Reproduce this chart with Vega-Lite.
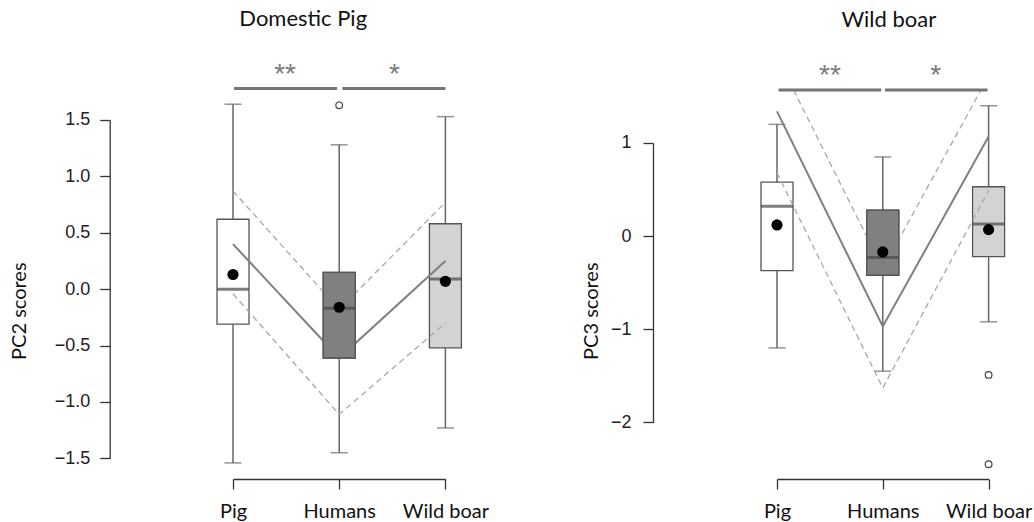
{
  "$schema": "https://vega.github.io/schema/vega-lite/v6.json",
  "background": "white",
  "padding": {"left": 9, "top": 8, "right": 5, "bottom": 5},
  "bounds": "flush",
  "spacing": 331,
  "config": {
    "view": {"stroke": null},
    "scale": {"continuousPadding": 0},
    "axis": {
      "grid": false,
      "domainColor": "#333333",
      "domainWidth": 1.3,
      "tickColor": "#333333",
      "tickWidth": 1.3,
      "tickSize": 10,
      "labelColor": "#222222",
      "titleColor": "#111111",
      "titleFontWeight": "normal"
    },
    "title": {"font": "Lato", "fontSize": 22, "fontWeight": "normal", "color": "#111111"}
  },
  "datasets": {
    "pigBox": [
      {"g": 1, "grp": "Pig", "lo": -1.54, "q1": -0.31, "med": 0.0, "q3": 0.62, "hi": 1.64, "mean": 0.13},
      {"g": 2, "grp": "Humans", "lo": -1.45, "q1": -0.61, "med": -0.17, "q3": 0.15, "hi": 1.28, "mean": -0.16},
      {"g": 3, "grp": "Wild boar", "lo": -1.23, "q1": -0.52, "med": 0.09, "q3": 0.58, "hi": 1.53, "mean": 0.07}
    ],
    "pigOut": [
      {"g": 2, "v": 1.63}
    ],
    "pigFit": [
      {"g": 1, "v": 0.40, "s": "fit"},
      {"g": 2, "v": -0.61, "s": "fit"},
      {"g": 3, "v": 0.25, "s": "fit"},
      {"g": 1, "v": 0.87, "s": "upper"},
      {"g": 2, "v": -0.18, "s": "upper"},
      {"g": 3, "v": 0.77, "s": "upper"},
      {"g": 1, "v": -0.04, "s": "lower"},
      {"g": 2, "v": -1.11, "s": "lower"},
      {"g": 3, "v": -0.30, "s": "lower"}
    ],
    "pigSig": [
      {"a": 1.01, "b": 1.98, "y": 1.78, "mid": 1.49, "ty": 1.96, "stars": "**"},
      {"a": 2.03, "b": 3.0, "y": 1.78, "mid": 2.52, "ty": 1.96, "stars": "*"}
    ],
    "boarBox": [
      {"g": 1, "grp": "Pig", "lo": -1.20, "q1": -0.37, "med": 0.32, "q3": 0.58, "hi": 1.20, "mean": 0.12},
      {"g": 2, "grp": "Humans", "lo": -1.45, "q1": -0.42, "med": -0.23, "q3": 0.28, "hi": 0.85, "mean": -0.17},
      {"g": 3, "grp": "Wild boar", "lo": -0.92, "q1": -0.22, "med": 0.13, "q3": 0.53, "hi": 1.40, "mean": 0.07}
    ],
    "boarOut": [
      {"g": 3, "v": -1.49},
      {"g": 3, "v": -2.45}
    ],
    "boarFit": [
      {"g": 1, "v": 1.34, "s": "fit"},
      {"g": 2, "v": -0.97, "s": "fit"},
      {"g": 3, "v": 1.07, "s": "fit"},
      {"g": 1.157, "v": 1.57, "s": "upper"},
      {"g": 2, "v": -0.35, "s": "upper"},
      {"g": 2.928, "v": 1.57, "s": "upper"},
      {"g": 1, "v": 0.68, "s": "lower"},
      {"g": 2, "v": -1.63, "s": "lower"},
      {"g": 3, "v": 0.49, "s": "lower"}
    ],
    "boarSig": [
      {"a": 1.015, "b": 1.985, "y": 1.57, "mid": 1.5, "ty": 1.79, "stars": "**"},
      {"a": 2.02, "b": 2.99, "y": 1.57, "mid": 2.5, "ty": 1.79, "stars": "*"}
    ]
  },
  "hconcat": [
    {
      "title": {"text": "Domestic Pig", "anchor": "middle", "dx": -36, "offset": 30},
      "width": 212.4,
      "height": 338.4,
      "layer": [
        {
          "data": {"name": "pigBox"},
          "mark": {"type": "rule", "color": "#666666", "strokeWidth": 1.5},
          "encoding": {
            "x": {
              "field": "g", "type": "quantitative",
              "scale": {"domain": [1, 3], "nice": false, "zero": false, "padding": 0},
              "axis": {
                "values": [1, 2, 3],
                "labelExpr": "datum.value == 1 ? 'Pig' : datum.value == 2 ? 'Humans' : 'Wild boar'",
                "title": null, "offset": 20.6, "labelFont": "Lato", "labelFontSize": 20,
                "labelPadding": 13, "labelFlush": false, "labelOverlap": false, "labelColor": "#111111"
              }
            },
            "y": {
              "field": "lo", "type": "quantitative",
              "scale": {"domain": [-1.5, 1.5], "nice": false, "zero": false, "padding": 0},
              "axis": {
                "values": [-1.5, -1, -0.5, 0, 0.5, 1, 1.5], "format": ".1f",
                "title": "PC2 scores", "offset": 123.3, "labelFont": "Liberation Sans",
                "labelFontSize": 18, "labelPadding": 10, "titleFont": "Lato", "titleFontSize": 20,
                "titlePadding": 24.3, "titleY": 190.7
              }
            },
            "y2": {"field": "hi"}
          }
        },
        {
          "data": {"name": "pigBox"},
          "mark": {"type": "tick", "orient": "horizontal", "size": 17, "thickness": 1.5, "color": "#666666"},
          "encoding": {"x": {"field": "g", "type": "quantitative"}, "y": {"field": "hi", "type": "quantitative"}}
        },
        {
          "data": {"name": "pigBox"},
          "mark": {"type": "tick", "orient": "horizontal", "size": 17, "thickness": 1.5, "color": "#666666"},
          "encoding": {"x": {"field": "g", "type": "quantitative"}, "y": {"field": "lo", "type": "quantitative"}}
        },
        {
          "data": {"name": "pigBox"},
          "mark": {"type": "bar", "width": 32, "stroke": "#555555", "strokeWidth": 1.3},
          "encoding": {
            "x": {"field": "g", "type": "quantitative"},
            "y": {"field": "q1", "type": "quantitative"},
            "y2": {"field": "q3"},
            "fill": {"field": "grp", "type": "nominal", "legend": null,
              "scale": {"domain": ["Pig", "Humans", "Wild boar"], "range": ["#ffffff", "#808080", "#d3d3d3"]}}
          }
        },
        {
          "data": {"name": "pigFit"},
          "transform": [{"filter": "datum.s != 'fit'"}],
          "mark": {"type": "line", "color": "#a8a8a8", "strokeWidth": 1.3, "strokeDash": [6, 4]},
          "encoding": {"x": {"field": "g", "type": "quantitative"}, "y": {"field": "v", "type": "quantitative"}, "detail": {"field": "s"}}
        },
        {
          "data": {"name": "pigFit"},
          "transform": [{"filter": "datum.s == 'fit'"}],
          "mark": {"type": "line", "color": "#7f7f7f", "strokeWidth": 2},
          "encoding": {"x": {"field": "g", "type": "quantitative"}, "y": {"field": "v", "type": "quantitative"}}
        },
        {
          "data": {"name": "pigBox"},
          "transform": [{"filter": "datum.grp == 'Humans'"}],
          "mark": {"type": "bar", "width": 32, "stroke": "#555555", "strokeWidth": 1.3, "fill": "#808080"},
          "encoding": {"x": {"field": "g", "type": "quantitative"}, "y": {"field": "q1", "type": "quantitative"}, "y2": {"field": "q3"}}
        },
        {
          "data": {"name": "pigBox"},
          "mark": {"type": "tick", "orient": "horizontal", "size": 32, "thickness": 3, "color": "#474747"},
          "encoding": {"x": {"field": "g", "type": "quantitative"}, "y": {"field": "med", "type": "quantitative"}}
        },
        {
          "data": {"name": "pigBox"},
          "mark": {"type": "point", "shape": "circle", "filled": true, "size": 125, "color": "#000000", "opacity": 1},
          "encoding": {"x": {"field": "g", "type": "quantitative"}, "y": {"field": "mean", "type": "quantitative"}}
        },
        {
          "data": {"name": "pigOut"},
          "mark": {"type": "point", "shape": "circle", "filled": false, "size": 45, "color": "#444444", "strokeWidth": 1.2, "opacity": 1},
          "encoding": {"x": {"field": "g", "type": "quantitative"}, "y": {"field": "v", "type": "quantitative"}}
        },
        {
          "data": {"name": "pigSig"},
          "mark": {"type": "rule", "color": "#757575", "strokeWidth": 3},
          "encoding": {"x": {"field": "a", "type": "quantitative"}, "x2": {"field": "b"}, "y": {"field": "y", "type": "quantitative"}}
        },
        {
          "data": {"name": "pigSig"},
          "mark": {"type": "text", "font": "Liberation Sans", "fontSize": 28, "color": "#7a7a7a", "baseline": "middle", "dy": 7},
          "encoding": {"x": {"field": "mid", "type": "quantitative"}, "y": {"field": "ty", "type": "quantitative"}, "text": {"field": "stars"}}
        }
      ]
    },
    {
      "title": {"text": "Wild boar", "anchor": "middle", "dx": 6, "offset": 30},
      "width": 211.6,
      "height": 338.4,
      "layer": [
        {
          "data": {"name": "boarBox"},
          "mark": {"type": "rule", "color": "#666666", "strokeWidth": 1.5},
          "encoding": {
            "x": {
              "field": "g", "type": "quantitative",
              "scale": {"domain": [1, 3], "nice": false, "zero": false, "padding": 0},
              "axis": {
                "values": [1, 2, 3],
                "labelExpr": "datum.value == 1 ? 'Pig' : datum.value == 2 ? 'Humans' : 'Wild boar'",
                "title": null, "offset": 20.6, "labelFont": "Lato", "labelFontSize": 20,
                "labelPadding": 13, "labelFlush": false, "labelOverlap": false, "labelColor": "#111111"
              }
            },
            "y": {
              "field": "lo", "type": "quantitative",
              "scale": {"domain": [-2, 1], "nice": false, "zero": false, "range": [302.4, 23]},
              "axis": {
                "values": [-2, -1, 0, 1], "format": "d",
                "title": "PC3 scores", "offset": 124, "labelFont": "Liberation Sans",
                "labelFontSize": 18, "labelPadding": 12, "titleFont": "Lato", "titleFontSize": 20,
                "titlePadding": 9, "titleY": 190.7
              }
            },
            "y2": {"field": "hi"}
          }
        },
        {
          "data": {"name": "boarBox"},
          "mark": {"type": "tick", "orient": "horizontal", "size": 17, "thickness": 1.5, "color": "#666666"},
          "encoding": {"x": {"field": "g", "type": "quantitative"}, "y": {"field": "hi", "type": "quantitative"}}
        },
        {
          "data": {"name": "boarBox"},
          "mark": {"type": "tick", "orient": "horizontal", "size": 17, "thickness": 1.5, "color": "#666666"},
          "encoding": {"x": {"field": "g", "type": "quantitative"}, "y": {"field": "lo", "type": "quantitative"}}
        },
        {
          "data": {"name": "boarBox"},
          "mark": {"type": "bar", "width": 32, "stroke": "#555555", "strokeWidth": 1.3},
          "encoding": {
            "x": {"field": "g", "type": "quantitative"},
            "y": {"field": "q1", "type": "quantitative"},
            "y2": {"field": "q3"},
            "fill": {"field": "grp", "type": "nominal", "legend": null,
              "scale": {"domain": ["Pig", "Humans", "Wild boar"], "range": ["#ffffff", "#808080", "#d3d3d3"]}}
          }
        },
        {
          "data": {"name": "boarFit"},
          "transform": [{"filter": "datum.s != 'fit'"}],
          "mark": {"type": "line", "color": "#a8a8a8", "strokeWidth": 1.3, "strokeDash": [6, 4]},
          "encoding": {"x": {"field": "g", "type": "quantitative"}, "y": {"field": "v", "type": "quantitative"}, "detail": {"field": "s"}}
        },
        {
          "data": {"name": "boarFit"},
          "transform": [{"filter": "datum.s == 'fit'"}],
          "mark": {"type": "line", "color": "#7f7f7f", "strokeWidth": 2},
          "encoding": {"x": {"field": "g", "type": "quantitative"}, "y": {"field": "v", "type": "quantitative"}}
        },
        {
          "data": {"name": "boarBox"},
          "transform": [{"filter": "datum.grp == 'Humans'"}],
          "mark": {"type": "bar", "width": 32, "stroke": "#555555", "strokeWidth": 1.3, "fill": "#808080"},
          "encoding": {"x": {"field": "g", "type": "quantitative"}, "y": {"field": "q1", "type": "quantitative"}, "y2": {"field": "q3"}}
        },
        {
          "data": {"name": "boarBox"},
          "mark": {"type": "tick", "orient": "horizontal", "size": 32, "thickness": 3, "color": "#474747"},
          "encoding": {"x": {"field": "g", "type": "quantitative"}, "y": {"field": "med", "type": "quantitative"}}
        },
        {
          "data": {"name": "boarBox"},
          "mark": {"type": "point", "shape": "circle", "filled": true, "size": 125, "color": "#000000", "opacity": 1},
          "encoding": {"x": {"field": "g", "type": "quantitative"}, "y": {"field": "mean", "type": "quantitative"}}
        },
        {
          "data": {"name": "boarOut"},
          "mark": {"type": "point", "shape": "circle", "filled": false, "size": 45, "color": "#444444", "strokeWidth": 1.2, "opacity": 1},
          "encoding": {"x": {"field": "g", "type": "quantitative"}, "y": {"field": "v", "type": "quantitative"}}
        },
        {
          "data": {"name": "boarSig"},
          "mark": {"type": "rule", "color": "#757575", "strokeWidth": 3},
          "encoding": {"x": {"field": "a", "type": "quantitative"}, "x2": {"field": "b"}, "y": {"field": "y", "type": "quantitative"}}
        },
        {
          "data": {"name": "boarSig"},
          "mark": {"type": "text", "font": "Liberation Sans", "fontSize": 28, "color": "#7a7a7a", "baseline": "middle", "dy": 7},
          "encoding": {"x": {"field": "mid", "type": "quantitative"}, "y": {"field": "ty", "type": "quantitative"}, "text": {"field": "stars"}}
        }
      ]
    }
  ],
  "resolve": {"scale": {"fill": "independent"}}
}
